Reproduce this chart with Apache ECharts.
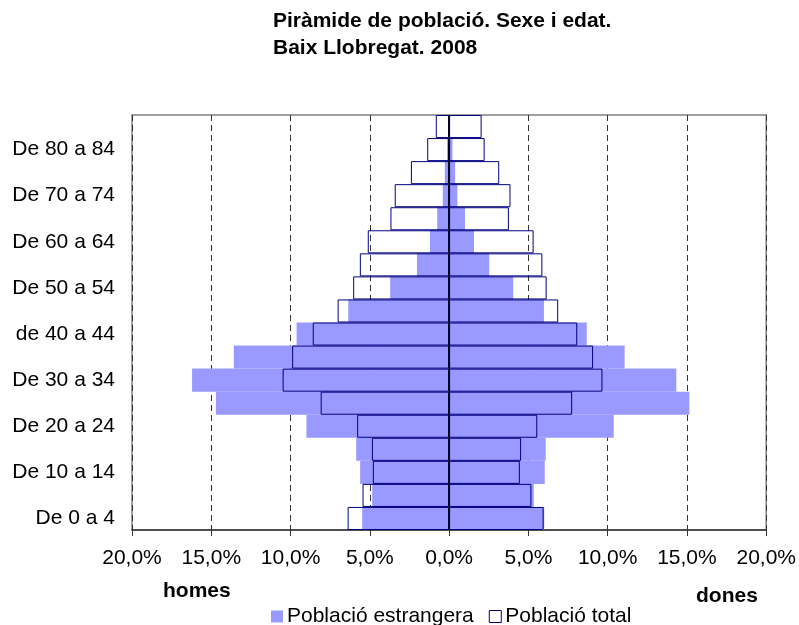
<!DOCTYPE html>
<html>
<head>
<meta charset="utf-8">
<script src="https://cdn.jsdelivr.net/npm/echarts@6/dist/echarts.min.js"></script>
<style>
  html, body { margin: 0; padding: 0; background: #ffffff; }
  #chart { width: 799px; height: 625px; }
</style>
</head>
<body>
<div id="chart"></div>
<script>
// age groups, bottom to top
const ageGroups = [
  "De 0 a 4", "De 5 a 9", "De 10 a 14", "De 15 a 19", "De 20 a 24",
  "De 25 a 29", "De 30 a 34", "De 35 a 39", "de 40 a 44", "De 45 a 49",
  "De 50 a 54", "De 55 a 59", "De 60 a 64", "De 65 a 69", "De 70 a 74",
  "De 75 a 79", "De 80 a 84", "De 85 i més"
];

// % of each population (men drawn to the left)
const menForeign = [5.48, 4.85, 5.61, 5.86, 9.00, 14.71, 16.21, 13.58, 9.62, 6.36, 3.72, 2.03, 1.21, 0.75, 0.40, 0.27, 0.13, 0.05];
const menTotal = [6.40, 5.46, 4.81, 4.87, 5.80, 8.10, 10.50, 9.90, 8.60, 7.03, 6.05, 5.63, 5.13, 3.70, 3.43, 2.41, 1.38, 0.84];
const womenForeign = [6.00, 5.34, 6.03, 6.09, 10.38, 15.15, 14.33, 11.07, 8.68, 5.98, 4.04, 2.53, 1.57, 1.00, 0.52, 0.38, 0.21, 0.05];
const womenTotal = [5.96, 5.19, 4.46, 4.54, 5.56, 7.76, 9.67, 9.08, 8.08, 6.88, 6.15, 5.88, 5.33, 3.77, 3.87, 3.16, 2.24, 2.05];

const FONT = "Arial, 'Liberation Sans', sans-serif";
const foreignName = "Població estrangera";
const totalName = "Població total";

const myChart = echarts.init(document.getElementById("chart"));

const barCommon = {
  type: "bar",
  barCategoryGap: "0%",
  barGap: "-100%",
  silent: true,
  animation: false,
};

const foreignStyle = { color: "#9999ff" };
const totalStyle = { color: "rgba(255,255,255,0)", borderColor: "#000080", borderWidth: 1 };

const option = {
  animation: false,
  textStyle: { fontFamily: FONT },
  title: {
    text: "Piràmide de població. Sexe i edat.\nBaix Llobregat. 2008",
    left: 268,
    top: 3,
    textStyle: { fontFamily: FONT, fontSize: 21, fontWeight: "bold", color: "#000", lineHeight: 27 },
  },
  legend: {
    left: 266,
    top: 601,
    itemWidth: 12,
    itemHeight: 12,
    itemGap: 15,
    icon: "rect",
    textStyle: { fontFamily: FONT, fontSize: 21, color: "#000", padding: [0, 0, 0, -1] },
    data: [
      { name: foreignName, itemStyle: { color: "#9999ff" } },
      { name: totalName, itemStyle: { color: "#ffffff", borderColor: "#000080", borderWidth: 1 } },
    ],
  },
  grid: {
    left: 132,
    right: 30,
    top: 115,
    bottom: 95,
    show: true,
    borderColor: "#808080",
    borderWidth: 1.5,
  },
  xAxis: {
    type: "value",
    min: -20,
    max: 20,
    interval: 5,
    axisLine: { show: true, onZero: false, lineStyle: { color: "#333", width: 1.5 } },
    axisTick: { show: true, length: 6, lineStyle: { color: "#333" } },
    axisLabel: {
      fontFamily: FONT,
      fontSize: 21,
      color: "#000",
      margin: 18,
      formatter: (v) => Math.abs(v).toFixed(1).replace(".", ",") + "%",
    },
    splitLine: { show: true, lineStyle: { type: [6, 4], color: "#333", width: 1 } },
  },
  yAxis: {
    type: "category",
    data: ageGroups,
    axisLine: { show: false },
    axisTick: { show: false },
    axisLabel: { interval: 1, fontFamily: FONT, fontSize: 21, color: "#000", margin: 17 },
    splitLine: { show: false },
  },
  graphic: [
    { type: "text", left: 163, top: 581, style: { text: "homes", font: "bold 21px " + FONT, fill: "#000" } },
    { type: "text", left: 696, top: 586, style: { text: "dones", font: "bold 21px " + FONT, fill: "#000" } },
  ],
  series: [
    Object.assign({}, barCommon, {
      name: foreignName,
      stack: "foreign",
      data: menForeign.map((v) => -v),
      itemStyle: foreignStyle,
    }),
    Object.assign({}, barCommon, {
      name: foreignName,
      stack: "foreign",
      data: womenForeign,
      itemStyle: foreignStyle,
    }),
    Object.assign({}, barCommon, {
      name: totalName,
      stack: "total",
      data: menTotal.map((v) => -v),
      itemStyle: totalStyle,
    }),
    Object.assign({}, barCommon, {
      name: totalName,
      stack: "total",
      data: womenTotal,
      itemStyle: totalStyle,
      // vertical line at 0
      markLine: {
        silent: true,
        symbol: "none",
        label: { show: false },
        lineStyle: { color: "#000", width: 1.5, type: "solid" },
        data: [{ xAxis: 0 }],
      },
    }),
  ],
};

myChart.setOption(option);
</script>
</body>
</html>
